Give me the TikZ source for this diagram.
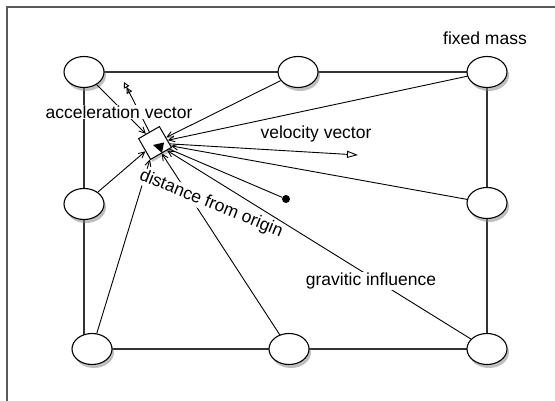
\documentclass[tikz,border=0pt]{standalone}
\usepackage{fontspec}
\setmainfont{Liberation Sans}
\usetikzlibrary{arrows.meta,shadows,shapes.geometric,backgrounds}
\begin{document}
\begin{tikzpicture}[x=1pt,y=-1pt,
  mass/.style={ellipse,draw,fill=white,line width=1.1pt,minimum width=40pt,minimum height=31pt,inner sep=0pt,
    drop shadow={opacity=0.5,shadow xshift=2pt,shadow yshift=-3.5pt}},
  body/.style={rectangle,draw,fill=white,line width=1pt,minimum size=24pt,inner sep=0pt,
    drop shadow={opacity=0.45,shadow xshift=2pt,shadow yshift=-2.5pt}},
  link/.style={line width=2.2pt,draw=black!80},
  pull/.style={line width=0.9pt,-{Straight Barb[length=6pt,width=6pt]}},
  tag/.style={font=\fontsize{17.5}{20}\selectfont,fill=white,inner sep=0.5pt}]
\useasboundingbox (0,0) rectangle (555,401);
% frame
\draw[line width=1.5pt,black!65] (7,401) -- (7,7) -- (555,7);
% fixed masses
\node[mass] (tl) at (84,72) {};
\node[mass] (tm) at (298,72) {};
\node[mass] (tr) at (487,72) {};
\node[mass] (ml) at (84,204) {};
\node[mass] (mr) at (487,203) {};
\node[mass] (bl) at (92,349) {};
\node[mass] (bm) at (289,349) {};
\node[mass] (br) at (487,349) {};
\begin{scope}[on background layer]
\draw[link] (tl.center) -- (tm.center) -- (tr.center) -- (br.center) -- (bl.center);
\draw[link] (tl.center) -- (ml.center) -- (ml.center |- bl.center);
\end{scope}
% moving body
\node[body,rotate=30] (body) at (155,143) {};
\fill (153,145) -- (164,142.5) -- (162,153) -- cycle;
\node[circle,fill,inner sep=0pt,minimum size=8pt] (origin) at (286,199) {};
\coordinate (vtip) at (358,155);
\coordinate (atip) at (124,82);
% influences
\foreach \m in {tl,tm,tr,mr,br,bm,bl,ml}
  \draw[pull] (\m) -- (body);
\draw[line width=0.9pt] (origin) -- (body);
\draw[line width=0.9pt,-{Triangle[open,length=11pt,width=7pt]}] (body) -- (vtip);
\draw[line width=0.9pt,-{Triangle[open,length=6pt,width=6pt]Triangle[open,length=6pt,width=6pt]}] (body) -- (atip);
% labels
\node[tag] (acclabel) at (119,112) {acceleration vector};
\node[tag] (vellabel) at (316,134) {velocity vector};
\node[tag] (gravlabel) at (371,281) {gravitic influence};
\node[tag,rotate=-22] (distlabel) at (211,204) {distance from origin};
\node[tag,fill=none] (masslabel) at (485,38) {fixed mass};
\end{tikzpicture}
\end{document}
